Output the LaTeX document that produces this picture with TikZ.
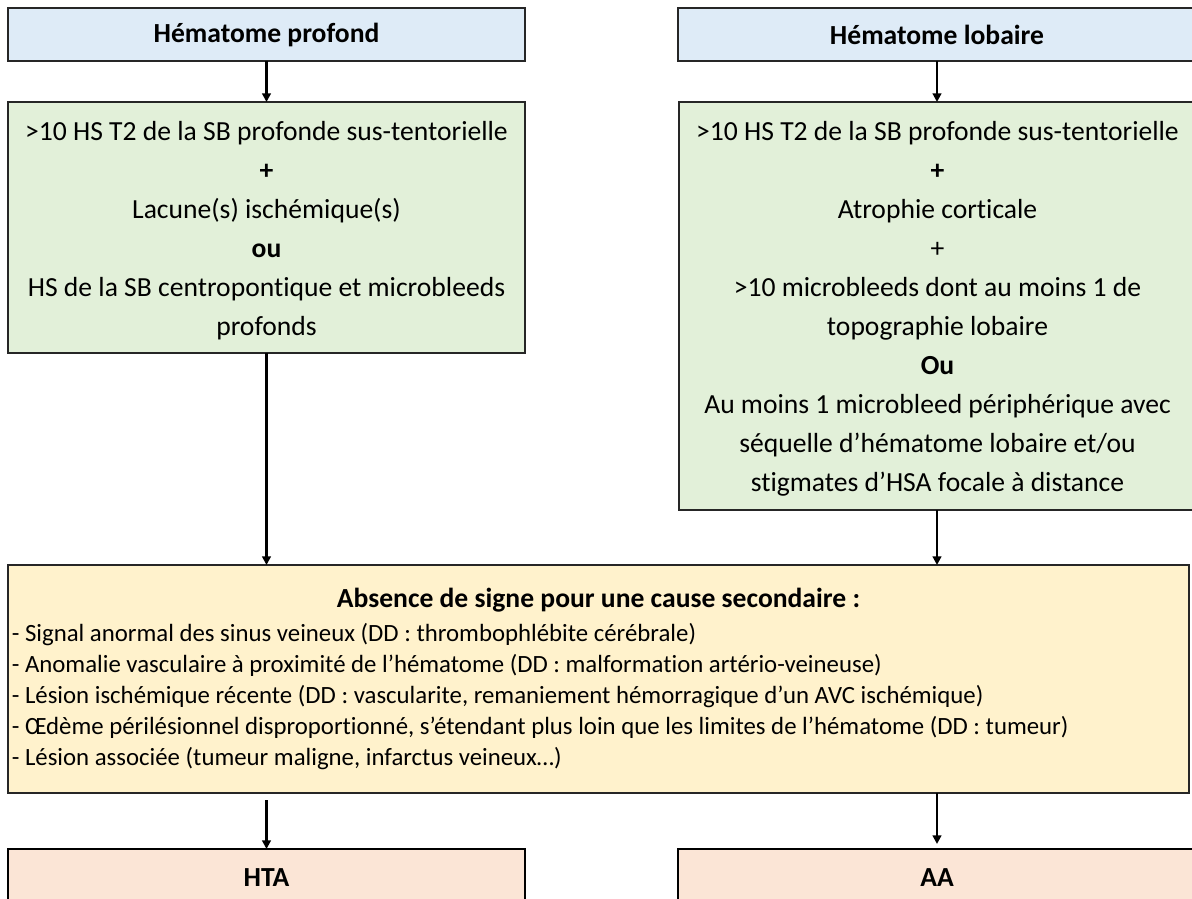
\documentclass[tikz,border=0pt]{standalone}
\usepackage{fontspec}
\setmainfont{Carlito}[Ligatures=NoCommon]
\usetikzlibrary{arrows.meta}
\definecolor{boxblue}{HTML}{DEEBF7}
\definecolor{boxgreen}{HTML}{E2F0D9}
\definecolor{boxyellow}{HTML}{FFF2CC}
\definecolor{boxpeach}{HTML}{FBE5D6}
\definecolor{edge}{HTML}{262626}
\newcommand{\firststrut}{\rule{0pt}{19pt}}
\begin{document}
\begin{tikzpicture}[x=0.75pt,y=-0.75pt,
  box/.style={draw=edge,line width=0.9pt,anchor=north west,inner sep=0pt,outer sep=0pt},
  topbox/.style={box,fill=boxblue,font=\fontsize{20.7}{25}\selectfont\bfseries},
  greenbox/.style={box,fill=boxgreen,align=flush center,text width=380pt,font=\fontsize{20.7}{29.25}\selectfont},
  yellowbox/.style={box,fill=boxyellow,align=flush left,inner xsep=2.8pt,text width=880pt,font=\fontsize{18.6}{23.25}\selectfont},
  endbox/.style={box,draw=black,line width=2.2pt,fill=boxpeach,font=\fontsize{20.7}{25}\selectfont\bfseries},
  arr/.style={draw=black,line width=1.9pt,-{Triangle[length=6.5pt,width=6.5pt]}}]
\useasboundingbox (0,0) rectangle (1192,899);
\clip (0,0) rectangle (1192,899);
\node[topbox,minimum width=387.75pt,minimum height=39.75pt] (tl) at (8,8) {Hématome profond};
\node[topbox,minimum width=388.5pt,minimum height=39.75pt] (tr) at (678,8) {Hématome lobaire};
\node[greenbox,minimum width=387.75pt,minimum height=188.25pt] (gl) at (8,102)
  {\firststrut>10 HS T2 de la SB profonde sus-tentorielle\\
   \textbf{+}\\
   Lacune(s) ischémique(s)\\
   \textbf{ou}\\
   HS de la SB centropontique et microbleeds\\
   profonds};
\node[greenbox,minimum width=387.75pt,minimum height=306pt] (gr) at (679,102)
  {\firststrut>10 HS T2 de la SB profonde sus-tentorielle\\
   \textbf{+}\\
   Atrophie corticale\\
   +\\
   >10 microbleeds dont au moins 1 de\\
   topographie lobaire\\
   \textbf{Ou}\\
   Au moins 1 microbleed périphérique avec\\
   séquelle d’hématome lobaire et/ou\\
   stigmates d’HSA focale à distance};
\node[yellowbox,minimum width=885.75pt,minimum height=171pt] (y) at (8,565)
  {\hbox to \hsize{\hfil\fontsize{20.7}{25}\selectfont\bfseries Absence de signe pour une cause secondaire :\hfil}\\[2pt]
   - Signal anormal des sinus veineux (DD : thrombophlébite cérébrale)\\
   - Anomalie vasculaire à proximité de l’hématome (DD : malformation artério-veineuse)\\
   - Lésion ischémique récente (DD : vascularite, remaniement hémorragique d’un AVC ischémique)\\
   - Œdème périlésionnel disproportionné, s’étendant plus loin que les limites de l’hématome (DD : tumeur)\\
   - Lésion associée (tumeur maligne, infarctus veineux…)};
\node[endbox,minimum width=387.75pt,minimum height=43.5pt] (hta) at (8,849) {HTA};
\node[endbox,minimum width=388.5pt,minimum height=43.5pt] (aa) at (678,849) {AA};
\draw[arr] (tl.south) -- (tl.south |- gl.north);
\draw[arr] (tr.south) -- (tr.south |- gr.north);
\draw[arr] (gl.south) -- (gl.south |- y.north);
\draw[arr] (tr.south |- gr.south) -- (tr.south |- y.north);
\draw[arr,shorten <=5.25pt] (hta.north |- y.south) -- (hta.north);
\draw[arr,shorten >=3.75pt] (aa.north |- y.south) -- (aa.north);
\end{tikzpicture}
\end{document}
